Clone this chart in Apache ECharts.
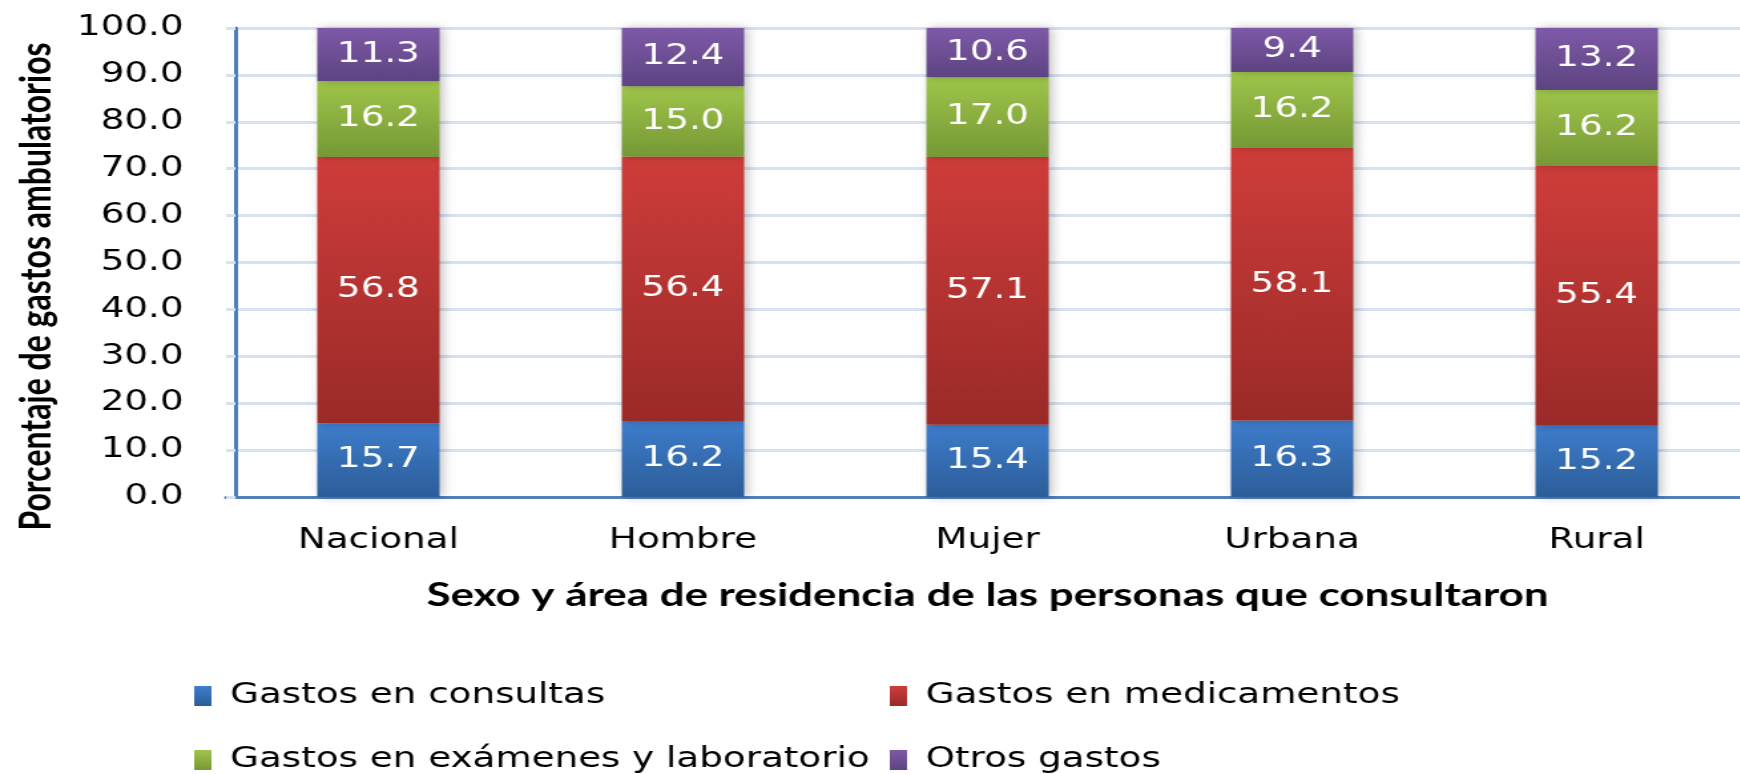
<!DOCTYPE html>
<html lang="es">
<head>
<meta charset="utf-8">
<title>Gastos ambulatorios</title>
<script src="https://cdn.jsdelivr.net/npm/echarts@6/dist/echarts.min.js"></script>
<style>
    html, body { margin: 0; padding: 0; background: #fff; overflow: hidden; }
    /* el original está estirado a lo ancho: se dibuja más estrecho y se estira */
    #main { width: 1320px; height: 774px; transform: scaleX(1.33); transform-origin: 0 0; }
</style>
</head>
<body>
<div id="main"></div>
<script>
    var categorias = ['Nacional', 'Hombre', 'Mujer', 'Urbana', 'Rural'];
    var consultas = [15.7, 16.2, 15.4, 16.3, 15.2];
    var medicamentos = [56.8, 56.4, 57.1, 58.1, 55.4];
    var examenes = [16.2, 15.0, 17.0, 16.2, 16.2];
    var otros = [11.3, 12.4, 10.6, 9.4, 13.2];

    var nombres = ['Gastos en consultas', 'Gastos en medicamentos',
                   'Gastos en exámenes y laboratorio', 'Otros gastos'];

    function grad(a, b) {
        return new echarts.graphic.LinearGradient(0, 0, 0, 1, [
            { offset: 0, color: a }, { offset: 1, color: b }
        ]);
    }

    function serie(nombre, datos, c1, c2) {
        return {
            name: nombre,
            type: 'bar',
            stack: 'total',
            barWidth: 92,
            data: datos,
            itemStyle: {
                color: grad(c1, c2),
                shadowBlur: 8,
                shadowOffsetX: 2,
                shadowColor: 'rgba(0,0,0,0.25)'
            },
            label: {
                show: true,
                position: 'inside',
                color: '#fff',
                fontFamily: 'DejaVu Sans',
                fontSize: 28,
                formatter: function (p) { return p.value.toFixed(1); }
            }
        };
    }

    var legendBase = {
        orient: 'horizontal',
        icon: 'rect',
        itemWidth: 13,
        itemHeight: 20,
        itemGap: 10,
        padding: 0,
        textStyle: {
            fontFamily: 'DejaVu Sans', fontSize: 28, color: '#000',
            padding: [0, 0, 0, 9]
        }
    };

    var myChart = echarts.init(document.getElementById('main'));
    var option = {
        animation: false,
        legend: [
            Object.assign({ data: [nombres[0]], left: 146, top: 682 }, legendBase),
            Object.assign({ data: [nombres[1]], left: 669, top: 682 }, legendBase),
            Object.assign({ data: [nombres[2]], left: 146, top: 746 }, legendBase),
            Object.assign({ data: [nombres[3]], left: 669, top: 746 }, legendBase)
        ],
        grid: { left: 170, right: 5, top: 28, height: 469 },
        xAxis: {
            type: 'category',
            data: categorias,
            axisLine: { lineStyle: { color: '#4f81bd', width: 3 } },
            axisTick: { show: false },
            axisLabel: { fontFamily: 'DejaVu Sans', fontSize: 28, color: '#000', margin: 30 },
            name: 'Sexo y área de residencia de las personas que consultaron',
            nameLocation: 'middle',
            nameGap: 82,
            nameTextStyle: { fontFamily: 'Lato', fontWeight: 'bold', fontSize: 33, color: '#000' }
        },
        yAxis: {
            type: 'value',
            min: 0,
            max: 100,
            interval: 10,
            offset: -7,
            axisLine: { show: true, lineStyle: { color: '#4a7ebb', width: 3 } },
            axisTick: { show: true, length: 7, lineStyle: { color: '#d7e3f1', width: 3 } },
            splitLine: { lineStyle: { color: '#d7e3f1', width: 3 } },
            axisLabel: {
                fontFamily: 'DejaVu Sans', fontSize: 28, color: '#000', margin: 39,
                formatter: function (v) { return v.toFixed(1); }
            },
            name: 'Porcentaje de gastos ambulatorios',
            nameLocation: 'middle',
            nameGap: 133,
            nameTextStyle: {
                fontFamily: 'Lato', fontWeight: 'bold', fontSize: 32, color: '#000',
                padding: [0, 48, 0, 0]
            }
        },
        series: [
            serie(nombres[0], consultas, '#3e7dcc', '#2c5d98'),
            serie(nombres[1], medicamentos, '#ce3d3a', '#9a2a28'),
            serie(nombres[2], examenes, '#9fc54a', '#769836'),
            serie(nombres[3], otros, '#7e59a7', '#5d4482')
        ]
    };
    myChart.setOption(option);
</script>
</body>
</html>
